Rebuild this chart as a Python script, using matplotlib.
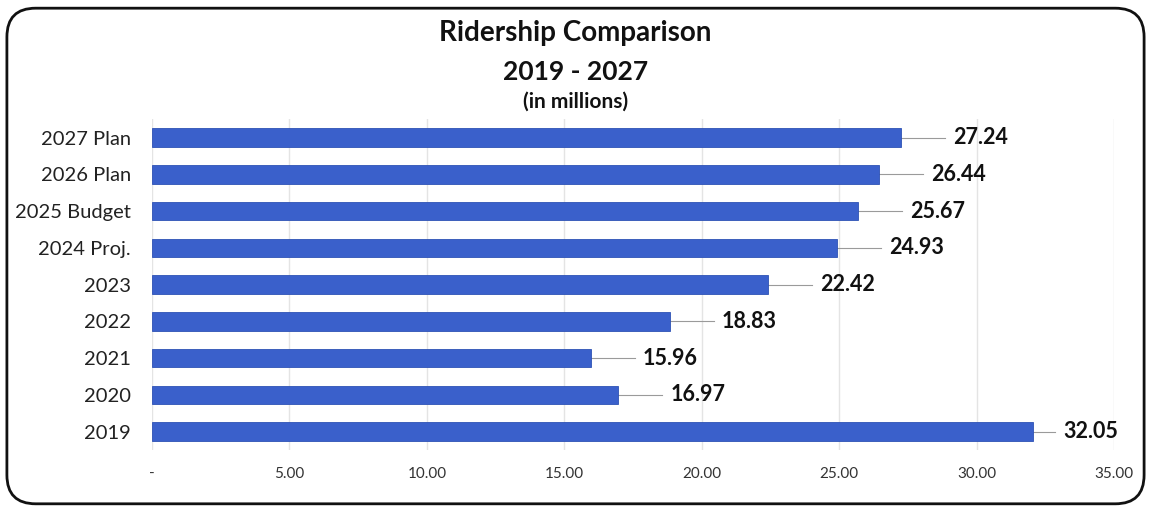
import matplotlib.pyplot as plt
from matplotlib.patches import FancyBboxPatch

plt.rcParams['font.family'] = ['Lato', 'DejaVu Sans']

categories = ['2019', '2020', '2021', '2022', '2023', '2024 Proj.',
              '2025 Budget', '2026 Plan', '2027 Plan']
ridership = [32.05, 16.97, 15.96, 18.83, 22.42, 24.93, 25.67, 26.44, 27.24]
xticks = [0, 5, 10, 15, 20, 25, 30, 35]
xtick_labels = ['-', '5.00', '10.00', '15.00', '20.00', '25.00', '30.00', '35.00']

bar_color = '#3A60CB'

fig = plt.figure(figsize=(11.51, 5.12), dpi=100)
ax = fig.add_axes([0.132, 0.121, 0.836, 0.646])

y = range(len(categories))
ax.barh(y, ridership, height=0.5, color=bar_color, edgecolor='#2E52B5',
        linewidth=0.6, zorder=3)

# leader lines + labels
for yi, v in zip(y, ridership):
    gap = 0.8 if v > 30 else 1.6
    ax.plot([v, v + gap], [yi, yi], color='#9A9A9A', lw=0.8, zorder=2)
    ax.text(v + gap + 0.3, yi, f'{v:.2f}', va='center', ha='left',
            fontsize=15.5, fontweight='bold', color='#111111')

ax.set_xlim(0, 35)
ax.set_ylim(-0.5, len(categories) - 0.5)
ax.set_xticks(xticks)
ax.set_xticklabels(xtick_labels, fontsize=11, color='#333333')
ax.set_yticks(list(y))
ax.set_yticklabels(categories, fontsize=14.5, color='#222222')
ax.tick_params(axis='x', length=0, pad=12)
ax.tick_params(axis='y', length=0, pad=15)
ax.grid(axis='x', color='#E4E4E4', lw=1, zorder=0)
for s in ax.spines.values():
    s.set_visible(False)

fig.text(0.5, 0.935, 'Ridership Comparison', ha='center', va='center',
         fontsize=20, fontweight='bold', color='#111111')
fig.text(0.5, 0.86, '2019 - 2027', ha='center', va='center',
         fontsize=19, fontweight='bold', color='#111111')
fig.text(0.5, 0.802, '(in millions)', ha='center', va='center',
         fontsize=15, fontweight='bold', color='#111111')

border = FancyBboxPatch((0.006, 0.016), 0.988, 0.968,
                        boxstyle='round,pad=0,rounding_size=0.025',
                        transform=fig.transFigure, fill=False,
                        edgecolor='#111111', lw=2, mutation_aspect=2.25)
fig.patches.append(border)

fig.savefig('out.png', dpi=100)
